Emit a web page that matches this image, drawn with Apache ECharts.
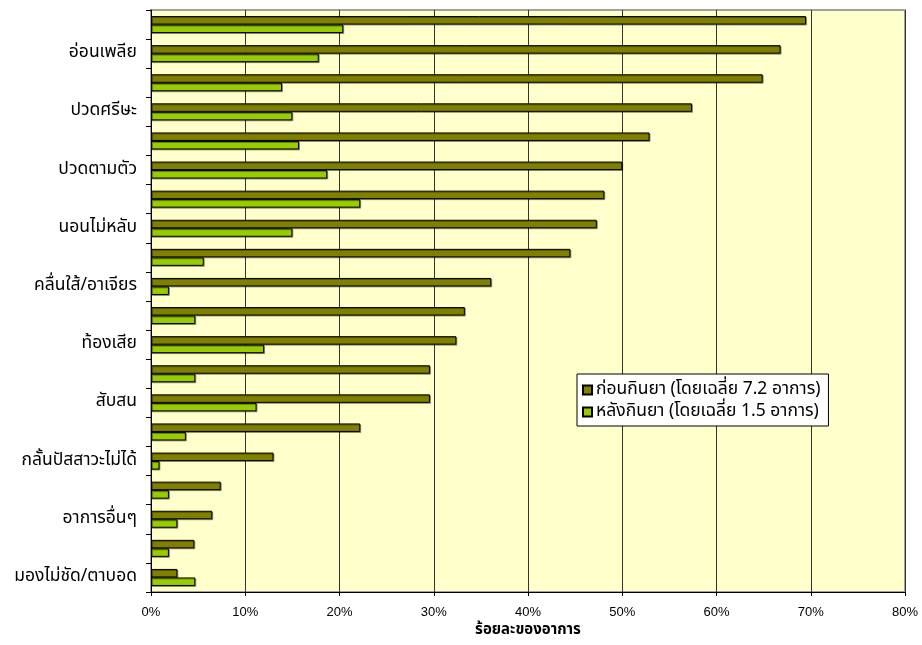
<!DOCTYPE html>
<html>
<head>
<meta charset="utf-8">
<script src="https://cdn.jsdelivr.net/npm/echarts@6/dist/echarts.min.js"></script>
<style>
  html, body { margin: 0; padding: 0; background: #fff; }
  #chart { width: 922px; height: 645px; }
</style>
</head>
<body>
<div id="chart"></div>
<script>
// categories from top to bottom (only every second one has a visible label)
var categories = [
  'อาการ 1', 'อ่อนเพลีย', 'อาการ 3', 'ปวดศรีษะ', 'อาการ 5', 'ปวดตามตัว',
  'อาการ 7', 'นอนไม่หลับ', 'อาการ 9', 'คลื่นใส้/อาเจียร', 'อาการ 11', 'ท้องเสีย',
  'อาการ 13', 'สับสน', 'อาการ 15', 'กลั้นปัสสาวะไม่ได้', 'อาการ 17', 'อาการอื่นๆ',
  'อาการ 19', 'มองไม่ชัด/ตาบอด'
];
var beforeVals = [69.5, 66.8, 64.9, 57.4, 52.9, 50.0, 48.1, 47.3, 44.5, 36.1,
                  33.3, 32.4, 29.6, 29.6, 22.2, 13.0, 7.4, 6.5, 4.6, 2.8];
var afterVals  = [20.4, 17.8, 13.9, 15.0, 15.7, 18.7, 22.2, 15.0, 5.6, 1.9,
                  4.7, 12.0, 4.7, 11.2, 3.7, 0.9, 1.9, 2.8, 1.9, 4.7];
var xTicks = [0, 10, 20, 30, 40, 50, 60, 70, 80];
var seriesNames = ['ก่อนกินยา (โดยเฉลี่ย 7.2 อาการ)', 'หลังกินยา (โดยเฉลี่ย 1.5 อาการ)'];

var thaiFont = 'Tahoma, "Noto Sans Thai", "Noto Sans", sans-serif';

let myChart = echarts.init(document.getElementById('chart'));

let barStyle = function (color) {
  return {
    color: color,
    borderColor: '#000',
    borderWidth: 1,
    shadowColor: 'rgba(0,0,0,0.35)',
    shadowOffsetX: 1,
    shadowOffsetY: 1
  };
};

let option = {
  animation: false,
  grid: {
    left: 151, right: 17, top: 10, bottom: 53,
    show: true,
    backgroundColor: '#FFFFCC',
    borderColor: '#a0a0a0',
    borderWidth: 2
  },
  legend: {
    orient: 'vertical',
    left: 577,
    top: 374,
    backgroundColor: '#fff',
    borderColor: '#000',
    borderWidth: 1,
    padding: [7, 8, 5, 5],
    itemWidth: 9,
    itemHeight: 9,
    itemGap: 4,
    icon: 'rect',
    textStyle: { fontFamily: thaiFont, fontSize: 17.5, color: '#000', lineHeight: 18, padding: [0, 0, 0, -1] },
    data: seriesNames
  },
  xAxis: {
    type: 'value',
    min: xTicks[0],
    max: xTicks[xTicks.length - 1],
    interval: 10,
    name: 'ร้อยละของอาการ',
    nameLocation: 'middle',
    nameGap: 27,
    nameTextStyle: { fontFamily: thaiFont, fontSize: 15, fontWeight: 'bold', color: '#000' },
    axisLine: { show: true, lineStyle: { color: '#000', width: 1 } },
    axisTick: { show: true, length: 4, lineStyle: { color: '#000' } },
    axisLabel: {
      formatter: '{value}%',
      margin: 14,
      fontFamily: '"Liberation Sans", Arial, sans-serif',
      fontSize: 13,
      color: '#000'
    },
    splitLine: { show: true, lineStyle: { color: '#333', width: 1 } }
  },
  yAxis: {
    type: 'category',
    inverse: true,
    data: categories,
    axisLine: { show: true, lineStyle: { color: '#000', width: 1 } },
    axisTick: { show: true, interval: 0, length: 5, lineStyle: { color: '#000' } },
    axisLabel: {
      interval: function (index) { return index % 2 === 1; },
      margin: 14,
      fontFamily: thaiFont,
      fontSize: 17.5,
      color: '#000'
    },
    splitLine: { show: false }
  },
  series: [
    {
      name: seriesNames[0],
      type: 'bar',
      data: beforeVals,
      barWidth: 8.5,
      barGap: '0%',
      itemStyle: barStyle('#808000')
    },
    {
      name: seriesNames[1],
      type: 'bar',
      data: afterVals,
      barWidth: 8.5,
      barGap: '0%',
      itemStyle: barStyle('#99CC00')
    }
  ]
};
myChart.setOption(option);
</script>
</body>
</html>
